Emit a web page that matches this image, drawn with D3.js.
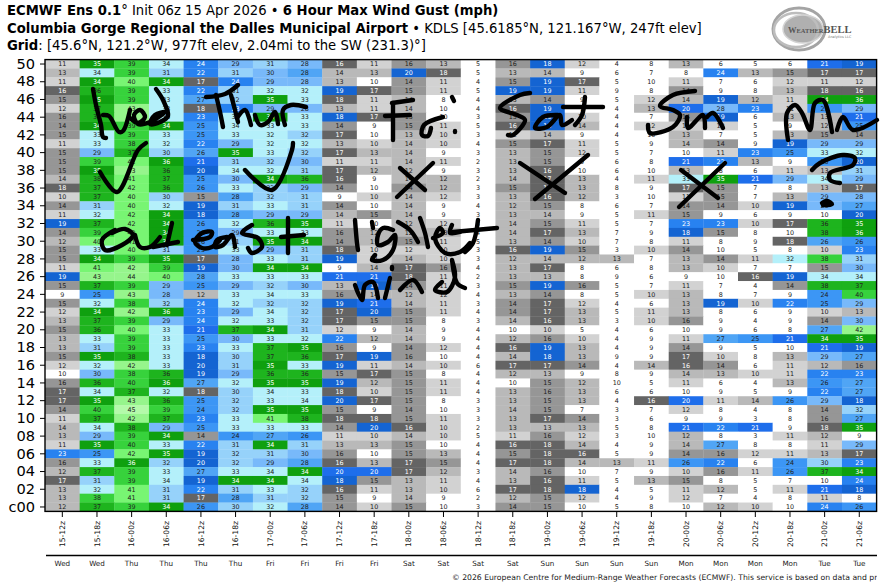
<!DOCTYPE html>
<html>
<head>
<meta charset="utf-8">
<script src="https://d3js.org/d3.v7.min.js"></script>
<style>
  html, body { margin: 0; padding: 0; background: #fff; }
  svg { display: block; }
  text { font-family: "DejaVu Sans", sans-serif; }
</style>
</head>
<body>
<div id="chart"></div>
<script>
// forecast steps along the x axis
var steps = ["15-12z","15-18z","16-00z","16-06z","16-12z","16-18z","17-00z","17-06z","17-12z","17-18z","18-00z","18-06z",
             "18-12z","18-18z","19-00z","19-06z","19-12z","19-18z","20-00z","20-06z","20-12z","20-18z","21-00z","21-06z"];
var days = ["Wed","Wed","Thu","Thu","Thu","Thu","Fri","Fri","Fri","Fri","Sat","Sat",
            "Sat","Sat","Sun","Sun","Sun","Sun","Mon","Mon","Mon","Mon","Tue","Tue"];

// gusts per ensemble member, mph
var m50 = [11,35,39,33.8,23.8,29,31,28,16,11,15.8,13,5,15.8,18,11.8,4,8,13,6,5,6,21,19];
var m49 = [13,33.8,39,31,22,31,29.8,27.8,13.8,13,19.8,17.8,5,13,13.8,9,6,7,8,23.8,13,15,17,17];
var m48 = [11,34,40,34,17,23.8,29,28,13,9.8,14,11,4,15,19,17,5,9.8,11,7,6,11.8,11,11.8];
var m47 = [16,36,39,33,22,31,32,32,19,17,15,11,5,19,19,11,9,8,14,9,8,13,17.8,16];
var m46 = [15,35,39,33,27,31.8,35,33,17.8,11,13.8,8,4,13,14,9,5,11.8,13.8,19,12,11,34,35.8];
var m45 = [11.8,37,43,33,17.8,23,29,28,13,11,13.8,9.8,4,16,19,9,4,13,20,28,23,11,25,29];
var m44 = [15.8,37,43,33,23,33,34,33,18,17,15,9.8,3,15,19,10,4,7,14,19,6,13,13,21];
var m43 = [14,34,39,34,25,33.8,33,33,14,9,15,11,5,16,19,13.8,4,11.8,11,11.8,5,9,12,25];
var m42 = [15,33,39,33,25,33,32,31.8,17,9.8,13,10,3,11.8,13.8,9,4,9.8,13,7,5,13,15,14];
var m41 = [11,33,38,32,22,29,32,32,13,10,13.8,10,4,15,17,11,5,9,13.8,14,9,19,29,29];
var m40 = [15,29,37,30,26,35,33,31.8,17,13,13.8,9,3,13,15,11.8,5,7,9.8,11,23,25,33,32];
var m39 = [15,39,41,35.8,21,31,31.8,29.8,11,11,13.8,11,2,13,15,9,6,8,21,22,13,9,25,19.8];
var m38 = [15,35,43,36,19.8,33.8,32,31,17,12,12,9,3,13,16,9.8,6,9.8,13,8,6,11,13,31];
var m37 = [13.8,37.8,41,37,25,29.8,34,36,16,9,13.8,12,2,13.8,17,13,4,11,33,35,21,29,33.8,29];
var m36 = [17.8,37,41.8,36,25.8,33,31.8,29,14,9.8,14,12,3,15,17,13,8,9,17,15,7,8,13,17];
var m35 = [10,37,40,30,15,27.8,31.8,31,9,10,13.8,11.8,3,13,16,12,3,9.8,11,15,7,13,29,28];
var m34 = [14,31,40,32,19,31,33,31,14,9.8,13.8,9,4,12,15,8,6,7,14,14,10,19,29,27];
var m33 = [11,32,41.8,34,18,27.8,29,29,13.8,15,13.8,9,3,13,13.8,9,5,11,15,9,6,9,9.8,19.8];
var m32 = [19,37,41.8,34,25.8,32,36,35,11,9.8,12,11.8,3,13.8,15,11,5,7,23,23,10,17,36,35];
var m31 = [14,39,41.8,34,25.8,29,33,33,15.8,12,12,13,4,13.8,17,13,7,9,18,15,8,9.8,37.8,35.8];
var m30 = [12,40,41,35.8,25.8,31,35,34,14,13,15,11,5,13,14,10,7,8,11,8,9,17.8,26,25.8];
var m29 = [15,33,40,31,25,33,29,31,17.8,10,11.8,10,3,16,19,15,3,10,14,9.8,5,8,10,23];
var m28 = [15,34,39,35,17,28,33,31,19,11,13.8,10,3,12,13.8,12,13,7,13,14,11,32,38,31];
var m27 = [11,41,42,39,19,29.8,34,34,9,13.8,17,15.8,4,13,17,8,6,8,13,10,7,7,15,29.8];
var m26 = [19,43,43.8,40,27.8,33,33,33,21,21,17.8,11,2,13,13,8,9,6,9,9.8,16,19,33.8,33.8];
var m25 = [15,37,39,29,25,29,31.8,29.8,13,19,14,11,3,15,19,15.8,5,7,11,7,4,14,37.8,37];
var m24 = [9,25,43,28,12,33,33.8,33,15.8,13.8,12,11.8,4,13,14,8,5,10,13,8,7,9,24,39.8];
var m23 = [15,32,38,31.8,23.8,32,31.8,31.8,19,21,13.8,11,3,14,17,11.8,4,6,13,19,10,22,25,29];
var m22 = [11.8,34,42,35.8,23,29,33.8,31.8,17,19.8,15,11,4,14,17,13,5,11,13,8,6,9,10,13];
var m21 = [13,37,39,29,23.8,32,33,31.8,17,15,15,8,3,13.8,16,13,3,10,15.8,9,4,9,14,29.8];
var m20 = [15,36,40,33,21,37,34,31,11.8,9,13.8,9,4,9.8,10,5,4,6,9.8,9,6,8,27,42];
var m19 = [13,33,39,33,25,29.8,33,32,22,12,13.8,9,4,12,15.8,10,4,9,11,27,25,21,34,35];
var m18 = [13,31,39,33,23,33,37,35,15.8,9,14,11.8,4,16,19,13,4,9,14,9,5,9.8,21,19];
var m17 = [15,35,37.8,33,18,30,37,36,17,19,15.8,9.8,4,13.8,18,13,9,9,17,10,8,13,29,27];
var m16 = [11.8,32,42,33,19.8,31,35,33,19,11,13.8,10,6,17,17,14,4,13.8,16,14,6,11,12,15.8];
var m15 = [9.8,29.8,38,36,19,29,36,36,15,17,15,8,4,12,13,9,8,9,13.8,13,10,11,22,23];
var m14 = [15.8,36,39.8,35.8,27,32,35,35,19,12,15,11,4,9.8,15,12,9.8,5,11,6,4,13,25.8,27];
var m13 = [17,33.8,37,32,17.8,30,33.8,33,17.8,10,15,11,4,13,15.8,13,6,6,9.8,9,5,9,22,27];
var m12 = [17,35,43,36,25,31.8,33,33.8,19.8,17,15,8,3,13,15,13,4,16,20,11,13.8,25.8,29,18];
var m11 = [14,39.8,45,39,24,31.8,35,35,15,9,14,9.8,3,13.8,15,7,3,7,11.8,8,4,8,14,31.8];
var m10 = [11,37,42,37,23,33,41,37.8,17.8,17.8,15,11,3,13,17,14,3,6,9,9,3,8,15.8,27];
var m09 = [13.8,33.8,37.8,29,25,33,33,33,14,19.8,16,10,2,13,13,13,5,8,21,22,21,9,17.8,35];
var m08 = [13,29,39,34,14,24,27,25.8,11,10,13.8,10,5,11,15.8,11.8,3,9.8,12,8,3,11,12,9];
var m07 = [11,35,39.8,33,22,31,34,31,13,13,15,9.8,4,16,17.8,13.8,4,9,13.8,27,8,8,11,29];
var m06 = [23,25,41.8,35,19,31.8,31,29.8,15.8,9.8,15,13,4,15,17.8,16,5,9,14,15.8,11.8,11,13,17];
var m05 = [15.8,33,35.8,31.8,19.8,31.8,29,27.8,16,13,17,15,4,17,17.8,13.8,13,11,25.8,22,6,24,30,23];
var m04 = [12,37,39,33,27,33,33.8,34,20,20,17,12,3,13.8,15.8,9.8,7,9,10,15.8,11,25.8,37,34];
var m03 = [17,31,39,33.8,19,34,34,33.8,18,15,13,11,4,13,16,11,5,13,15,8,5,7,9.8,23.8];
var m02 = [13,32,41,31,22,31,33,31.8,16,11,13,10,6,17,17.8,18,4,5,11,12,5,11,21,18];
var m01 = [13,38,41,31,17,27.8,31,31.8,15,9,13.8,9,2,12,15,11.8,4,9,11.8,7,4,8,11,8];
var m00 = [12,37,39,34,25.8,30,32,27.8,14,10,15,9.8,3,14,15,9.8,5,8,9.8,12,10,9.8,23.8,25.8];

var memberNames = ["50","49","48","47","46","45","44","43","42","41","40","39","38","37","36","35","34","33","32","31","30","29","28","27","26",
                   "25","24","23","22","21","20","19","18","17","16","15","14","13","12","11","10","09","08","07","06","05","04","03","02","01","c00"];
var members = [m50,m49,m48,m47,m46,m45,m44,m43,m42,m41,m40,m39,m38,m37,m36,m35,m34,m33,m32,m31,m30,m29,m28,m27,m26,
               m25,m24,m23,m22,m21,m20,m19,m18,m17,m16,m15,m14,m13,m12,m11,m10,m09,m08,m07,m06,m05,m04,m03,m02,m01,m00];

var breaks = [10,12,14,16,18,20,22,24,26,28,30,32,34,36,38,40,42,44];
var palette = ["#ffffff","#d2d2d2","#b9b9b9","#969696","#646464","#1464d2","#1e6eeb","#2882f0","#3c96f5","#50a5f5","#78b9fa","#96d2fa","#b4f0fa",
               "#0fa00f","#1eb41e","#37d23c","#78f573","#96f58c","#b4faaa"];
var lightTextCells = ["#646464","#1464d2","#1e6eeb","#2882f0","#0fa00f"];

// handwriting on top of the plot, in page pixels
var scribbles = [
  // Wed
  [[93,89],[96,105],[101,125],[103,137],[106,138]],
  [[103,115],[109,116],[119,132],[123,131],[130,110]],
  [[130,118],[138,123],[145,117],[140,110],[134,115],[138,124],[150,122],[165,112],[155,115],[150,124],[160,122],[168,116],[163,100],[156,89]],
  // Thur
  [[206,97],[225,94],[238,85]], [[216,95],[220,112],[223,127]],
  [[231,95],[235,110],[238,122]], [[237,118],[245,110],[251,125]],
  [[255,115],[260,125],[268,122],[275,112],[278,124]],
  [[285,125],[283,110],[291,105],[306,107]],
  // Fri:
  [[393,103],[393,122],[393,140]], [[392,103],[413,100]], [[385,116],[410,115]],
  [[443,117],[424,125],[422,135],[428,136],[431,128]],
  [[452,97],[454,101]], [[455,131],[455,132]],
  // Sat
  [[530,93],[520,95],[500,108],[517,115],[525,120],[513,135],[508,135]],
  [[558,115],[543,117],[535,128],[547,127],[560,115],[562,125],[572,120]],
  [[585,97],[582,115],[575,125]], [[563,107],[603,107]],
  // Sun
  [[695,91],[673,95],[660,106],[673,110],[680,115],[673,127],[650,133],[648,125]],
  [[687,117],[688,128],[703,115],[705,128]], [[707,117],[713,113],[723,128]],
  // Mon
  [[788,140],[787,113],[795,105],[802,113],[810,130],[815,103],[823,100],[832,132]],
  [[837,130],[843,117],[853,130],[877,120]],
  // checks
  [[100,172],[117,192],[138,150],[146,143]], [[245,170],[272,190],[292,150],[293,143]],
  // crosses
  [[397,197],[433,163]], [[400,168],[425,190]],
  [[520,163],[565,193]], [[588,155],[535,199]],
  [[681,170],[718,198]], [[725,163],[679,207]],
  // question mark
  [[812,170],[820,163],[843,155],[855,158],[853,165],[830,173],[830,180],[840,183]],
  [[822,203],[827,201],[832,204],[827,205],[823,205]],
  // outeast
  [[115,230],[102,240],[105,250],[122,245],[133,235],[125,229],[112,233]],
  [[135,235],[140,247],[150,247],[160,237]],
  [[172,223],[167,245]], [[153,247],[178,242]],
  [[193,240],[210,237],[212,232],[202,233],[195,242],[202,248],[212,247],[220,240]],
  [[227,237],[217,240],[215,247],[223,245],[232,235],[235,247]],
  [[252,225],[242,233],[258,238],[262,247],[252,253],[248,248]],
  [[288,218],[288,253]], [[281,237],[304,235]],
  // lightest
  [[355,220],[357,243],[358,250]], [[372,222],[373,228]],
  [[393,230],[383,228],[378,235],[378,245],[388,242],[395,235],[393,250],[383,260],[372,260],[375,255]],
  [[398,222],[410,230],[418,242]], [[420,218],[425,233],[428,247]],
  [[433,238],[443,233],[440,228],[435,238],[445,253],[460,252],[470,243]],
  [[452,225],[450,233],[460,232]],
  [[478,220],[473,243],[465,252]], [[453,232],[497,228]],
  // wind
  [[355,285],[362,300],[365,285],[373,282],[378,298]],
  [[392,267],[392,269]], [[390,278],[385,298]],
  [[400,290],[413,280],[422,292]],
  [[442,282],[435,290],[447,292],[455,277],[452,260],[457,283],[465,288]]
];

var svg = d3.select("#chart").append("svg")
    .attr("width", 884)
    .attr("height", 588);

/////////////////////////////////////////////////////
//////////////////  heading text  ///////////////////
/////////////////////////////////////////////////////

function heading(y, parts) {
    var t = svg.append("text").attr("x", 7).attr("y", y).style("font-size", "13.2px").style("fill", "#000");
    parts.forEach(function(p) {
        t.append("tspan").style("font-weight", p[1] ? "bold" : "normal").text(p[0]);
    });
}
heading(15, [["ECMWF Ens 0.1", true], ["\u00b0  Init 06z 15 Apr 2026 \u2022 ", false], ["6 Hour Max Wind Gust (mph)", true]]);
heading(33, [["Columbia Gorge Regional the Dalles Municipal Airport", true], [" \u2022 KDLS [45.6185\u00b0N, 121.167\u00b0W, 247ft elev]", false]]);
heading(50, [["Grid", true], [": [45.6\u00b0N, 121.2\u00b0W, 977ft elev, 2.04mi to the SW (231.3)\u00b0]", false]]);

/////////////////////////////////////////////////////
//////////////////  logo  ///////////////////////////
/////////////////////////////////////////////////////

var logo = svg.append("g").attr("fill", "none");
logo.append("ellipse").attr("cx", 803).attr("cy", 29).attr("rx", 20).attr("ry", 14).attr("fill", "#b0b0b0");
[[799,29,26,21,"#a4a4a4",3],[796,30,22,17,"#bdbdbd",2.5],[803,29,20,14,"#d4d4d4",1.5]].forEach(function(e) {
    logo.append("ellipse").attr("cx", e[0]).attr("cy", e[1]).attr("rx", e[2]).attr("ry", e[3])
        .attr("stroke", e[4]).attr("stroke-width", e[5]);
});
var logoText = svg.append("text").attr("x", 788).attr("y", 33).style("font-family", "'Liberation Serif', serif")
    .style("font-weight", "bold").style("fill", "#555");
logoText.append("tspan").style("font-size", "8.5px").text("W");
logoText.append("tspan").style("font-size", "6.5px").text("EATHER");
logoText.append("tspan").style("font-size", "10.5px").text("BELL");
svg.append("text").attr("x", 828).attr("y", 38).style("font-size", "3.5px").style("fill", "#777").text("Analytics LLC");

/////////////////////////////////////////////////////
//////////////////  cells  //////////////////////////
/////////////////////////////////////////////////////

var x = d3.scaleBand().domain(steps).range([45, 876.6]);
var y = d3.scaleBand().domain(memberNames).range([59.6, 511.4]);
var color = d3.scaleThreshold().domain(breaks).range(palette);
var fmt = d3.format(".0f");

var cells = [];
members.forEach(function(row, i) {
    row.forEach(function(v, j) {
        cells.push({ member: memberNames[i], step: steps[j], value: v });
    });
});

svg.append("g").selectAll("rect")
    .data(cells)
    .join("rect")
    .attr("x", function(d) { return x(d.step); })
    .attr("y", function(d) { return y(d.member); })
    .attr("width", x.bandwidth() + 0.3)
    .attr("height", y.bandwidth() + 0.3)
    .attr("fill", function(d) { return color(d.value); });

svg.append("g").selectAll("text")
    .data(cells)
    .join("text")
    .attr("x", function(d) { return x(d.step) + x.bandwidth() / 2; })
    .attr("y", function(d) { return y(d.member) + y.bandwidth() / 2; })
    .attr("dy", "0.36em")
    .attr("text-anchor", "middle")
    .style("font-size", "6.4px")
    .style("fill", function(d) { return lightTextCells.indexOf(color(d.value)) >= 0 ? "#fff" : "#222"; })
    .text(function(d) { return fmt(d.value); });

// frame
svg.append("rect").attr("x", 45).attr("y", 59.6).attr("width", 831.6).attr("height", 451.8)
    .attr("fill", "none").attr("stroke", "#000").attr("stroke-width", 1.4);

/////////////////////////////////////////////////////
//////////////////  axes  ///////////////////////////
/////////////////////////////////////////////////////

var yAxis = svg.append("g").attr("transform", "translate(45,0)")
    .call(d3.axisLeft(y)
        .tickValues(memberNames.filter(function(d, i) { return i % 2 === 0; }))
        .tickSize(5).tickPadding(5));
yAxis.select(".domain").remove();
yAxis.selectAll("text").style("font-size", "14.6px").style("fill", "#000").style("font-family", "'DejaVu Sans', sans-serif");

var xAxis = svg.append("g").attr("transform", "translate(0,512)")
    .call(d3.axisBottom(x).tickSize(5).tickPadding(3));
xAxis.select(".domain").remove();
xAxis.selectAll("text")
    .attr("transform", "rotate(-90)")
    .attr("text-anchor", "end")
    .attr("x", -9)
    .attr("y", 0)
    .attr("dy", "0.34em")
    .style("font-size", "7.6px")
    .style("fill", "#111")
    .style("font-family", "'DejaVu Sans', sans-serif");

// day names under the axis
svg.append("line").attr("x1", 46).attr("x2", 877).attr("y1", 555.5).attr("y2", 555.5)
    .attr("stroke", "#000").attr("stroke-width", 1.4);
svg.append("g").selectAll("text")
    .data(steps)
    .join("text")
    .attr("x", function(d) { return x(d) + x.bandwidth() / 2; })
    .attr("y", 566)
    .attr("text-anchor", "middle")
    .style("font-size", "7.2px")
    .style("fill", "#222")
    .text(function(d, i) { return days[i]; });

svg.append("clipPath").attr("id", "foot").append("rect").attr("x", 440).attr("y", 565).attr("width", 437).attr("height", 20);
svg.append("text").attr("x", 452).attr("y", 580).attr("clip-path", "url(#foot)")
    .style("font-size", "7.7px").style("fill", "#222")
    .text("\u00a9 2026 European Centre for Medium-Range Weather Forecasts (ECMWF). This service is based on data and products of the ECMWF.");

/////////////////////////////////////////////////////
//////////////////  handwriting  ////////////////////
/////////////////////////////////////////////////////

var pen = d3.line().curve(d3.curveCatmullRom.alpha(0.5));
svg.append("g").selectAll("path")
    .data(scribbles)
    .join("path")
    .attr("d", pen)
    .attr("fill", "none")
    .attr("stroke", "#000")
    .attr("stroke-width", 4.4)
    .attr("stroke-linecap", "round")
    .attr("stroke-linejoin", "round");
</script>
</body>
</html>
